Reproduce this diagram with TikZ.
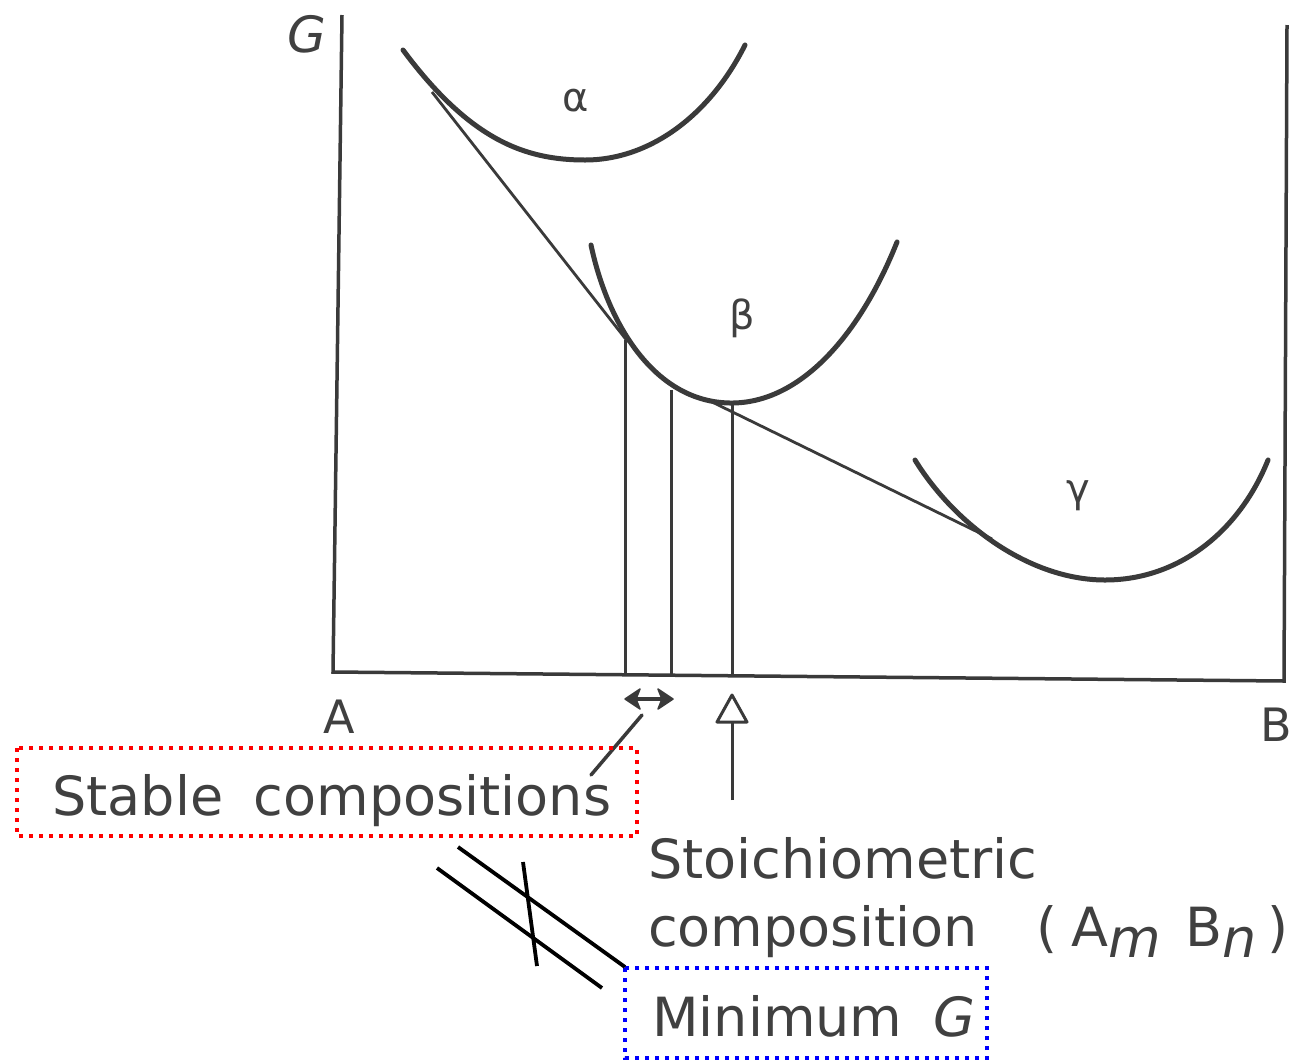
\documentclass[tikz,border=0pt]{standalone}
\usepackage{fontspec}
\setmainfont{DejaVu Sans}
\usetikzlibrary{arrows.meta}
\definecolor{ink}{HTML}{3A3A3A}
\definecolor{txt}{HTML}{404040}
\tikzset{
  axis/.style={draw=ink, line width=3.5pt},
  curve/.style={draw=ink, line width=5pt, line cap=round},
  tangent/.style={draw=ink, line width=2.8pt},
  vline/.style={draw=ink, line width=3pt},
  lbl/.style={text=txt, inner sep=0pt, font=\fontsize{54}{60}\selectfont},
  axlbl/.style={text=txt, inner sep=0pt, font=\fontsize{46}{50}\selectfont},
  greek/.style={text=txt, inner sep=0pt, font=\fontsize{40}{44}\selectfont},
  dotbox/.style={line width=4pt, dash pattern=on 4pt off 6pt},
  neq/.style={draw=black, line width=3.8pt},
  headfill/.style={fill=ink, draw=ink, line width=1.5pt, line join=round},
}
\begin{document}
\begin{tikzpicture}[x=1pt,y=-1pt]
\useasboundingbox (0,0) rectangle (1298,1061);
\fill[white] (0,0) rectangle (1298,1061);
% axes
\coordinate (ytop) at (342,15);
\coordinate (origin) at (333,672);
\coordinate (xend) at (1284,681);
\coordinate (rtop) at (1287,25);
\draw[axis] (ytop) -- (origin) -- (xend) -- (rtop);
\node[axlbl, anchor=base west, font=\fontsize{50}{54}\selectfont\itshape] (Glbl) at (287,52) {G};
\node[axlbl, anchor=base west] (Albl) at (323,733) {A};
\node[axlbl, anchor=base west] (Blbl) at (1260,741) {B};
% free energy curves
\draw[curve] (403,50) .. controls (470,140) and (525,160) .. (585,160) .. controls (650,160) and (710,115) .. (745,45);
\draw[curve] (591,245) .. controls (608,325) and (655,402) .. (730,403) .. controls (800,404) and (860,335) .. (897,242);
\draw[curve] (915,460) .. controls (955,525) and (1030,580) .. (1105,580) .. controls (1180,580) and (1240,530) .. (1268,460);
\node[greek] (alpha) at (576,101) {α};
\node[greek] (beta) at (742,318) {β};
\node[greek] (gamma) at (1078,496) {γ};
% common tangents
\coordinate (tA) at (432,92);
\coordinate (tB1) at (628,342);
\coordinate (tB2) at (708,400);
\coordinate (tG) at (992,539);
\draw[tangent] (tA) -- (tB1);
\draw[tangent] (tB2) -- (tG);
% verticals
\draw[vline] (625,340) -- (625,674);
\draw[vline] (671,390) -- (671,676);
\draw[vline] (732,404) -- (732,677);
% double arrow
\coordinate (da1) at (625,699);
\coordinate (da2) at (673,699);
\draw[draw=ink, line width=3.5pt] (637,699) -- (661,699);
\filldraw[headfill] (da1) -- (640,689) -- (636,699) -- (640,709) -- cycle;
\filldraw[headfill] (da2) -- (658,689) -- (662,699) -- (658,709) -- cycle;
% pointer to stable compositions
\coordinate (p1) at (642,715);
\coordinate (p2) at (591,775);
\draw[draw=ink, line width=3.5pt, line cap=round] (p1) -- (p2);
% open arrow
\coordinate (arT) at (732,695);
\coordinate (arB) at (732,800);
\draw[draw=ink, line width=3pt] (arB) -- (732,722);
\draw[draw=ink, line width=3pt, line join=round, fill=white] (arT) -- (747,722) -- (717,722) -- cycle;
% boxes
\draw[dotbox, draw=red] (17,748) rectangle (637,836);
\node[lbl, anchor=base west] (stable) at (52,815) {Stable\hspace{0.25em} compositions};
\draw[dotbox, draw=blue] (625,968) rectangle (987,1058);
\node[lbl, anchor=base west] (minG) at (652,1036) {Minimum\hspace{0.25em} \textit{G}};
\node[lbl, anchor=base west] (stoich1) at (648,878) {Stoichiometric};
\node[lbl, anchor=base west] (stoich2) at (648,946) {composition\hspace{1.1em}(\hspace{0.25em}A\raisebox{-0.22em}{\itshape m}\hspace{0.45em}B\raisebox{-0.22em}{\itshape n}\hspace{0.2em})};
% not-equal connector
\draw[neq] (458,847) -- (625,967);
\draw[neq] (437,868) -- (602,988);
\draw[neq] (523,862) -- (537,966);
\end{tikzpicture}
\end{document}
